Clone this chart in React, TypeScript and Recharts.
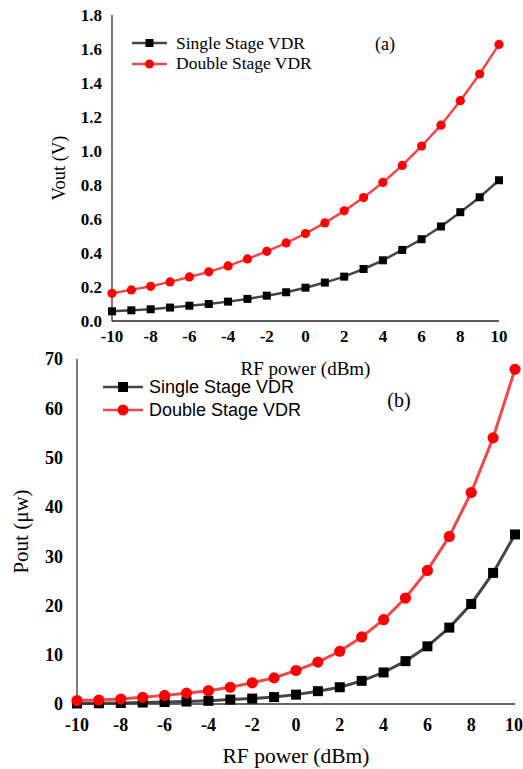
import React from 'react';
import { LineChart, Line, XAxis, YAxis, Legend } from 'recharts';

const rfPower = [-10, -9, -8, -7, -6, -5, -4, -3, -2, -1, 0, 1, 2, 3, 4, 5, 6, 7, 8, 9, 10];
const voutSingle = [0.057, 0.063, 0.069, 0.079, 0.09, 0.1, 0.114, 0.13, 0.149, 0.169, 0.196, 0.226, 0.261, 0.306, 0.357, 0.418, 0.481, 0.556, 0.64, 0.728, 0.828];
const voutDouble = [0.163, 0.183, 0.204, 0.23, 0.259, 0.289, 0.324, 0.365, 0.41, 0.459, 0.514, 0.577, 0.648, 0.726, 0.815, 0.915, 1.029, 1.152, 1.296, 1.453, 1.627];
const poutSingle = [0.1, 0.15, 0.2, 0.3, 0.4, 0.5, 0.65, 0.9, 1.1, 1.4, 1.9, 2.6, 3.4, 4.7, 6.4, 8.7, 11.7, 15.5, 20.3, 26.6, 34.4];
const poutDouble = [0.7, 0.8, 1.0, 1.35, 1.75, 2.2, 2.7, 3.4, 4.3, 5.3, 6.8, 8.5, 10.7, 13.6, 17.1, 21.5, 27.1, 34.0, 42.9, 54.0, 67.9];
const xTicks = [-10, -8, -6, -4, -2, 0, 2, 4, 6, 8, 10];
const voutTicks = [0, 0.2, 0.4, 0.6, 0.8, 1.0, 1.2, 1.4, 1.6, 1.8];
const poutTicks = [0, 10, 20, 30, 40, 50, 60, 70];
const seriesNames = ['Single Stage VDR', 'Double Stage VDR'];
const xTitle = 'RF power (dBm)';
const voutTitle = 'Vout (V)';
const poutTitle = 'Pout (\u03bcw)';

const SERIF = '"Liberation Serif", "Times New Roman", serif';
const SANS = '"Liberation Sans", Arial, sans-serif';
const GRAY_LINE = '#454545';
const RED_LINE = '#f04848';
const RED_DOT = '#ff0000';

const dataA = rfPower.map((x, i) => ({ x, single: voutSingle[i], double: voutDouble[i] }));
const dataB = rfPower.map((x, i) => ({ x, single: poutSingle[i], double: poutDouble[i] }));

const squareDot = (size: number) => (p: any) => (
  <rect key={`s${p.index}`} x={p.cx - size / 2} y={p.cy - size / 2} width={size} height={size} fill="#000" />
);
const circleDot = (r: number) => (p: any) => (
  <circle key={`c${p.index}`} cx={p.cx} cy={p.cy} r={r} fill={RED_DOT} />
);

const makeLegend = (font: string, fontSize: number, rowH: number, lineW: number, gap: number, sq: number, cr: number) => (props: any) => {
  const payload = [...(props.payload || [])].sort(
    (a: any, b: any) => seriesNames.indexOf(a.value) - seriesNames.indexOf(b.value)
  );
  return (
    <div style={{ fontFamily: font, fontSize, color: '#000', lineHeight: 1 }}>
      {payload.map((item: any, i: number) => {
        const single = item.value === seriesNames[0];
        return (
          <div key={i} style={{ display: 'flex', alignItems: 'center', height: rowH, whiteSpace: 'nowrap' }}>
            <svg width={lineW + gap} height={14} style={{ display: 'block' }}>
              <line x1={0} y1={7} x2={lineW} y2={7} stroke={single ? GRAY_LINE : RED_LINE} strokeWidth={2.5} />
              {single ? (
                <rect x={lineW / 2 - sq / 2} y={7 - sq / 2} width={sq} height={sq} fill="#000" />
              ) : (
                <circle cx={lineW / 2} cy={7} r={cr} fill={RED_DOT} />
              )}
            </svg>
            <span>{item.value}</span>
          </div>
        );
      })}
    </div>
  );
};

const tickA = { fill: '#000', fontSize: 17, fontWeight: 'bold' as const, fontFamily: SERIF };
const tickB = { fill: '#000', fontSize: 18, fontWeight: 'bold' as const, fontFamily: SERIF };

export default function App() {
  return (
    <div style={{ position: 'absolute', left: 0, top: 0, width: 523, height: 769, background: '#fff' }}>
      <div style={{ position: 'absolute', left: 0, top: 0 }}>
        <LineChart width={523} height={380} data={dataA} margin={{ top: 15, right: 24, bottom: 29, left: 52 }}>
          <XAxis
            xAxisId="b"
            dataKey="x"
            type="number"
            domain={[-10, 10]}
            ticks={xTicks}
            tickLine={false}
            tickSize={6}
            tickMargin={3}
            height={30}
            axisLine={{ stroke: '#5a5a5a', strokeWidth: 2 }}
            tick={tickA}
            label={{ value: xTitle, position: 'bottom', offset: 11, fill: '#000', fontSize: 19, fontFamily: SERIF }}
          />
          <XAxis xAxisId="t" dataKey="x" type="number" domain={[-10, 10]} orientation="top" height={0} tick={false} tickLine={false} axisLine={{ stroke: '#404040', strokeWidth: 1.2 }} />
          <YAxis
            yAxisId="l"
            type="number"
            domain={[0, 1.8]}
            ticks={voutTicks}
            tickFormatter={(v: number) => v.toFixed(1)}
            tickLine={false}
            tickSize={6}
            tickMargin={4}
            width={60}
            axisLine={{ stroke: '#202020', strokeWidth: 1.2 }}
            tick={tickA}
            label={{ value: voutTitle, angle: -90, position: 'center', dx: -24, fill: '#000', fontSize: 18.5, fontFamily: SERIF }}
          />
          <YAxis yAxisId="r" type="number" domain={[0, 1.8]} orientation="right" width={0} tick={false} tickLine={false} axisLine={{ stroke: '#404040', strokeWidth: 1.2 }} />
          <Legend
            layout="vertical"
            verticalAlign="middle"
            align="center"
            wrapperStyle={{ top: 33, left: 132, width: 'auto', height: 'auto' }}
            content={makeLegend(SERIF, 17.5, 20.5, 35, 9, 8, 4.5)}
          />
          <Line xAxisId="b" yAxisId="l" name={seriesNames[0]} dataKey="single" stroke={GRAY_LINE} strokeWidth={2.5} dot={squareDot(8)} activeDot={false} isAnimationActive={false} />
          <Line xAxisId="b" yAxisId="l" name={seriesNames[1]} dataKey="double" stroke={RED_LINE} strokeWidth={2.5} dot={circleDot(4.6)} activeDot={false} isAnimationActive={false} />
        </LineChart>
      </div>
      <div style={{ position: 'absolute', left: 0, top: 340 }}>
        <LineChart width={523} height={429} data={dataB} margin={{ top: 19, right: 8, bottom: 35, left: 17 }}>
          <XAxis
            xAxisId="b"
            dataKey="x"
            type="number"
            domain={[-10, 10]}
            ticks={xTicks}
            tickLine={false}
            tickSize={6}
            tickMargin={8}
            height={30}
            axisLine={{ stroke: '#333', strokeWidth: 1.6 }}
            tick={tickB}
            label={{ value: xTitle, position: 'bottom', offset: 14, fill: '#000', fontSize: 21.5, fontFamily: SERIF }}
          />
          <XAxis xAxisId="t" dataKey="x" type="number" domain={[-10, 10]} orientation="top" height={0} tick={false} tickLine={false} axisLine={{ stroke: '#404040', strokeWidth: 1.2 }} />
          <YAxis
            yAxisId="l"
            type="number"
            domain={[0, 70]}
            ticks={poutTicks}
            tickLine={false}
            tickSize={6}
            tickMargin={8}
            width={60}
            axisLine={{ stroke: '#202020', strokeWidth: 1.2 }}
            tick={tickB}
            label={{ value: poutTitle, angle: -90, position: 'center', dx: -26, fill: '#000', fontSize: 21, fontFamily: SERIF }}
          />
          <YAxis yAxisId="r" type="number" domain={[0, 70]} orientation="right" width={0} tick={false} tickLine={false} axisLine={{ stroke: '#404040', strokeWidth: 1.2 }} />
          <Legend
            layout="vertical"
            verticalAlign="middle"
            align="center"
            wrapperStyle={{ top: 35.5, left: 103, width: 'auto', height: 'auto' }}
            content={makeLegend(SANS, 18, 23, 40, 6, 10, 5.5)}
          />
          <Line xAxisId="b" yAxisId="l" name={seriesNames[0]} dataKey="single" stroke={GRAY_LINE} strokeWidth={3} dot={squareDot(10)} activeDot={false} isAnimationActive={false} />
          <Line xAxisId="b" yAxisId="l" name={seriesNames[1]} dataKey="double" stroke={RED_LINE} strokeWidth={3} dot={circleDot(5.6)} activeDot={false} isAnimationActive={false} />
        </LineChart>
      </div>
      <div style={{ position: 'absolute', left: 385, top: 43.5, transform: 'translate(-50%, -50%)', fontFamily: SERIF, fontSize: 18, color: '#000', lineHeight: 1 }}>(a)</div>
      <div style={{ position: 'absolute', left: 399, top: 400, transform: 'translate(-50%, -50%)', fontFamily: SERIF, fontSize: 20, color: '#000', lineHeight: 1 }}>(b)</div>
    </div>
  );
}
